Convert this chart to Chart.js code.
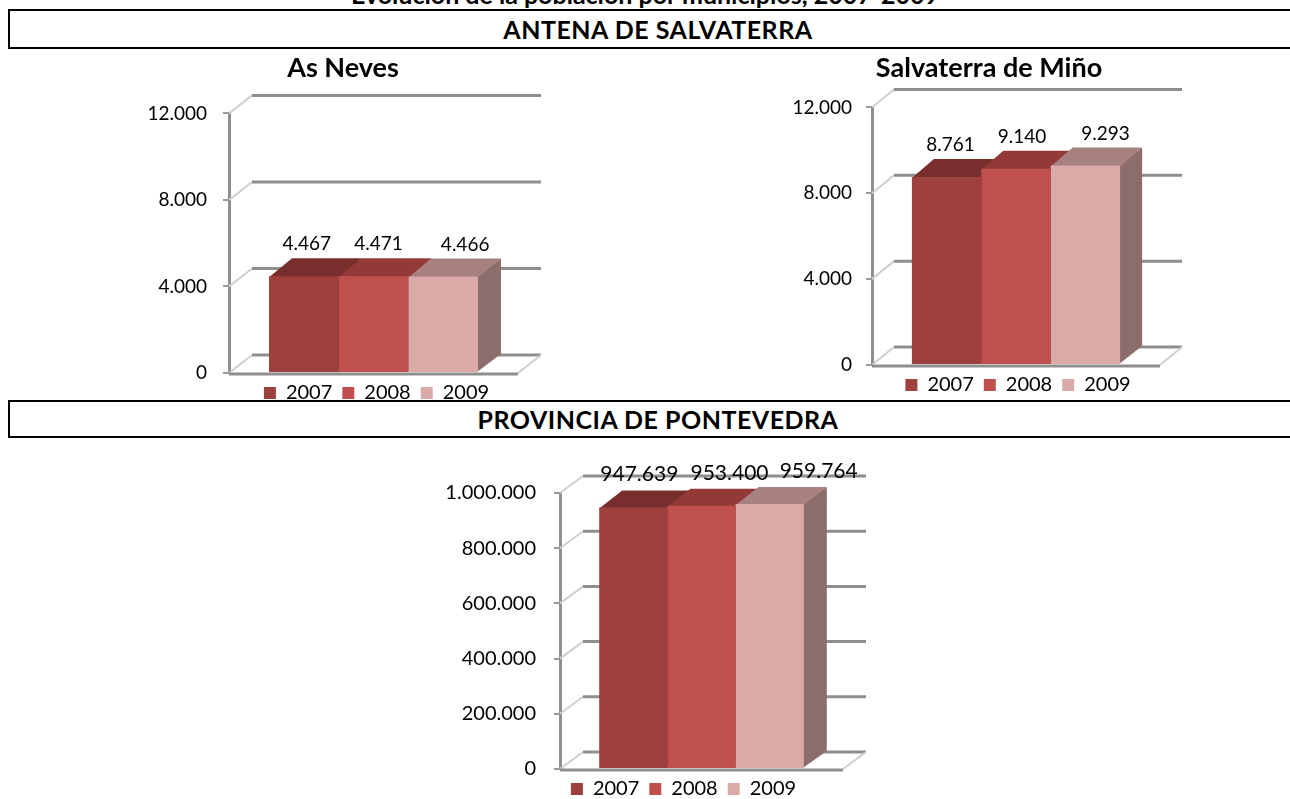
<!DOCTYPE html>
<html>
<head>
<meta charset="utf-8">
<script src="https://cdn.jsdelivr.net/npm/chart.js@4.4.1/dist/chart.umd.min.js"></script>
<style>
  body { margin: 0; width: 1290px; height: 799px; overflow: hidden; background: #fff; position: relative; font-family: Lato, sans-serif; }
  .head { position: absolute; left: 8px; width: 1300px; border: 2px solid #000; text-align: center; font-weight: bold; font-size: 25px; letter-spacing: 0.5px; box-sizing: border-box; }
  #maintitle { position: absolute; left: 0; width: 1290px; top: -21px; text-align: center; font-weight: bold; font-size: 25px; }
  canvas { position: absolute; }
</style>
</head>
<body>
<div id="maintitle">Evolución de la población por municipios, 2007-2009</div>
<div class="head" style="top:9px;height:40px;line-height:36px">ANTENA DE SALVATERRA</div>
<div class="head" style="top:400px;height:38px;line-height:34px">PROVINCIA DE PONTEVEDRA</div>
<canvas id="c1" width="426" height="363" style="left:130px;top:50px"></canvas>
<canvas id="c2" width="418" height="355" style="left:780px;top:50px"></canvas>
<canvas id="c3" width="494" height="369" style="left:420px;top:440px"></canvas>
<script>
// data
const years = ['2007', '2008', '2009'];
const asNeves = [4467, 4471, 4466];
const salvaterra = [8761, 9140, 9293];
const pontevedra = [947639, 953400, 959764];

const front = ['#9d403e', '#c0504d', '#daaaa9'];
const tops = ['#772e2d', '#933a38', '#a6817f'];
const sides = ['#6e2a29', '#8a3634', '#8b6e6c'];

const fmt = v => String(v).replace(/\B(?=(\d{3})+(?!\d))/g, '.');

// fake 3D: back wall, floor, top and side faces, value labels
const bar3d = {
  id: 'bar3d',
  afterLayout(chart, args, opts) {
    // nudge title / legend sideways, like the excel layout
    if (chart.titleBlock && opts.titleShift) {
      chart.titleBlock.left += opts.titleShift;
      chart.titleBlock.right += opts.titleShift;
    }
    if (chart.legend && opts.legendShift) {
      chart.legend.left += opts.legendShift;
      chart.legend.right += opts.legendShift;
      chart.legend.adjustHitBoxes();
    }
  },
  beforeDatasetsDraw(chart, args, opts) {
    const { ctx, chartArea: a } = chart;
    const y = chart.scales.y;
    const dx = opts.dx, dy = opts.dy;
    ctx.save();
    y.ticks.forEach(t => {
      const py = y.getPixelForValue(t.value);
      ctx.strokeStyle = '#cfcfcf';
      ctx.lineWidth = 2;
      ctx.beginPath(); ctx.moveTo(a.left, py); ctx.lineTo(a.left + dx, py - dy); ctx.stroke();
      ctx.strokeStyle = '#8e8e8e';
      ctx.lineWidth = 3;
      ctx.beginPath(); ctx.moveTo(a.left + dx, py - dy); ctx.lineTo(a.right + dx, py - dy); ctx.stroke();
    });
    ctx.strokeStyle = '#cfcfcf';
    ctx.lineWidth = 2;
    ctx.beginPath(); ctx.moveTo(a.right, a.bottom); ctx.lineTo(a.right + dx, a.bottom - dy); ctx.stroke();

    chart.data.datasets.forEach((ds, i) => {
      chart.getDatasetMeta(i).data.forEach(bar => {
        const l = bar.x - bar.width / 2, r = bar.x + bar.width / 2;
        ctx.fillStyle = sides[i];
        ctx.beginPath();
        ctx.moveTo(r - 1, bar.y); ctx.lineTo(r + dx, bar.y - dy); ctx.lineTo(r + dx, bar.base - dy); ctx.lineTo(r - 1, bar.base);
        ctx.closePath(); ctx.fill();
        ctx.fillStyle = tops[i];
        ctx.beginPath();
        ctx.moveTo(l, bar.y + 1); ctx.lineTo(l + dx, bar.y - dy); ctx.lineTo(r + dx, bar.y - dy); ctx.lineTo(r, bar.y + 1);
        ctx.closePath(); ctx.fill();
      });
    });
    ctx.restore();
  },
  afterDatasetsDraw(chart, args, opts) {
    const { ctx, chartArea: a } = chart;
    ctx.save();
    ctx.strokeStyle = '#8e8e8e';
    ctx.lineWidth = 3;
    ctx.beginPath(); ctx.moveTo(a.left, a.bottom + 1); ctx.lineTo(a.right, a.bottom + 1); ctx.stroke();
    ctx.font = opts.labelSize + 'px Lato';
    ctx.fillStyle = '#000';
    ctx.textAlign = 'center';
    ctx.textBaseline = 'middle';
    chart.data.datasets.forEach((ds, i) => {
      chart.getDatasetMeta(i).data.forEach((bar, j) => {
        ctx.fillText(fmt(ds.data[j]), bar.x + opts.labelDx[i], bar.y - opts.dy - opts.labelGap);
      });
    });
    ctx.restore();
  }
};

function makeChart(id, values, cfg) {
  return new Chart(document.getElementById(id), {
    type: 'bar',
    data: {
      labels: [''],
      datasets: years.map((yr, i) => ({
        label: yr,
        data: [values[i]],
        backgroundColor: front[i],
        borderWidth: 0,
        categoryPercentage: 0.723,
        barPercentage: 1
      }))
    },
    options: {
      responsive: false,
      animation: false,
      layout: { padding: cfg.padding },
      plugins: {
        title: {
          display: !!cfg.title,
          text: cfg.title,
          color: '#000',
          font: { family: 'Lato', size: 27, weight: 'bold' },
          padding: cfg.titlePadding
        },
        legend: {
          position: 'bottom',
          fullSize: false,
          labels: {
            boxWidth: 12, boxHeight: 12, padding: 10,
            color: '#000',
            font: { family: 'Lato', size: 20 }
          }
        },
        tooltip: { enabled: false },
        bar3d: {
          dx: cfg.dx, dy: cfg.dy, labelDx: cfg.labelDx, labelGap: cfg.labelGap, labelSize: cfg.labelSize,
          titleShift: cfg.titleShift, legendShift: cfg.legendShift
        }
      },
      scales: {
        x: { display: false },
        y: {
          min: 0,
          max: cfg.max,
          afterFit: s => { s.width = cfg.axisWidth; },
          ticks: {
            stepSize: cfg.step,
            padding: cfg.tickPad,
            color: '#000',
            font: { family: 'Lato', size: cfg.tickSize },
            callback: v => fmt(v)
          },
          grid: { drawOnChartArea: false, tickLength: 6, color: '#9a9a9a', lineWidth: 2 },
          border: { color: '#8e8e8e', width: 3 }
        }
      }
    },
    plugins: [bar3d]
  });
}

makeChart('c1', asNeves, {
  title: 'As Neves', titlePadding: { top: 2, bottom: 29 }, titleShift: 19, legendShift: 3,
  padding: { top: 0, right: 38, bottom: 0, left: 0 },
  max: 12000, step: 4000, axisWidth: 99, tickPad: 16, tickSize: 19,
  dx: 23, dy: 18, labelDx: [3, 5, 22], labelGap: 14, labelSize: 19
});

makeChart('c2', salvaterra, {
  title: 'Salvaterra de Miño', titlePadding: { top: 2, bottom: 23 }, titleShift: 19, legendShift: 2,
  padding: { top: 0, right: 38, bottom: 0, left: 0 },
  max: 12000, step: 4000, axisWidth: 92, tickPad: 14, tickSize: 19,
  dx: 22, dy: 18, labelDx: [4, 6, 20], labelGap: 14, labelSize: 19
});

makeChart('c3', pontevedra, {
  title: '', titlePadding: 0, titleShift: 0, legendShift: -18,
  padding: { top: 53, right: 71, bottom: 0, left: 0 },
  max: 1000000, step: 200000, axisWidth: 140, tickPad: 18, tickSize: 20,
  dx: 23, dy: 17, labelDx: [6, 28, 49], labelGap: 16, labelSize: 21
});
</script>
</body>
</html>
